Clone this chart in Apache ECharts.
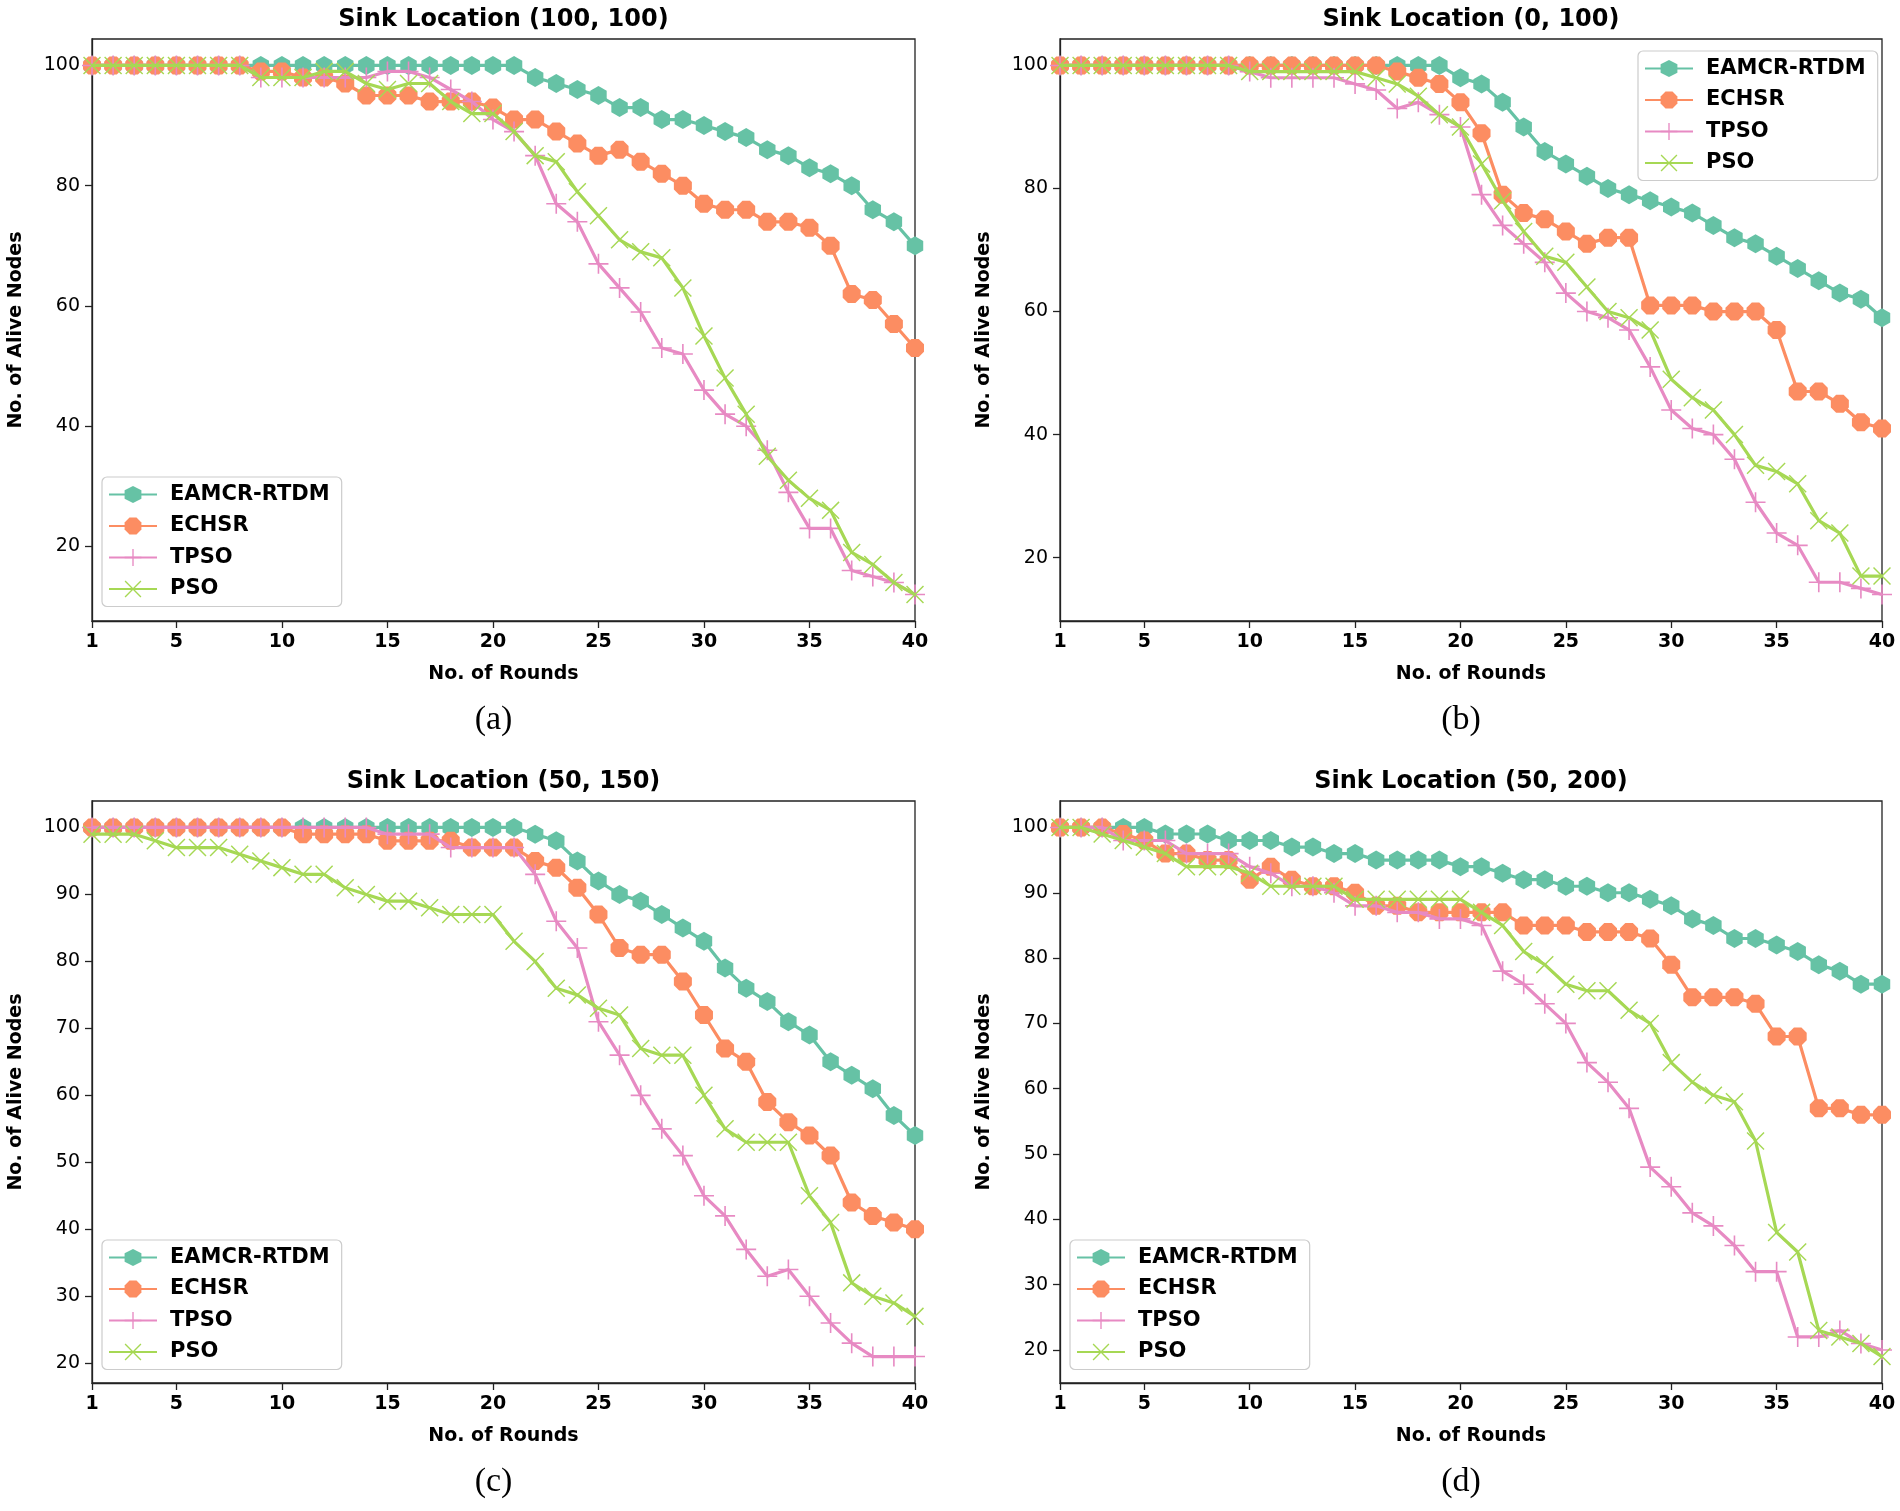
<!DOCTYPE html>
<html>
<head>
<meta charset="utf-8">
<script src="https://cdn.jsdelivr.net/npm/echarts@6/dist/echarts.min.js"></script>
<style>html,body{margin:0;padding:0;background:#fff;}#chart{width:1900px;height:1511px;}</style>
</head>
<body>
<div id="chart"></div>
<script>
// ---------- data ----------
const rounds = [1,2,3,4,5,6,7,8,9,10,11,12,13,14,15,16,17,18,19,20,21,22,23,24,25,26,27,28,29,30,31,32,33,34,35,36,37,38,39,40];
const xTicks = [1,5,10,15,20,25,30,35,40];
const seriesNames = ['EAMCR-RTDM','ECHSR','TPSO','PSO'];
const panelTitles = ['Sink Location (100, 100)','Sink Location (0, 100)','Sink Location (50, 150)','Sink Location (50, 200)'];
const panelTags = ['(a)','(b)','(c)','(d)'];
const yTicksA = [20,40,60,80,100];
const yTicksB = [20,40,60,80,100];
const yTicksC = [20,30,40,50,60,70,80,90,100];
const yTicksD = [20,30,40,50,60,70,80,90,100];

// (a) Sink Location (100, 100)
const a_EAMCR = [100,100,100,100,100,100,100,100,100,100,100,100,100,100,100,100,100,100,100,100,100,98,97,96,95,93,93,91,91,90,89,88,86,85,83,82,80,76,74,70];
const a_ECHSR = [100,100,100,100,100,100,100,100,99,99,98,98,97,95,95,95,94,94,94,93,91,91,89,87,85,86,84,82,80,77,76,76,74,74,73,70,62,61,57,53];
const a_TPSO  = [100,100,100,100,100,100,100,100,98,98,98,98,98,98,99,99,98,96,94,91,89,85,77,74,67,63,59,53,52,46,42,40,36,29,23,23,16,15,14,12];
const a_PSO   = [100,100,100,100,100,100,100,100,98,98,98,99,99,97,96,97,97,94,92,92,89,85,84,79,75,71,69,68,63,55,48,42,35,31,28,26,19,17,14,12];

// (b) Sink Location (0, 100)
const b_EAMCR = [100,100,100,100,100,100,100,100,100,100,100,100,100,100,100,100,100,100,100,98,97,94,90,86,84,82,80,79,78,77,76,74,72,71,69,67,65,63,62,59];
const b_ECHSR = [100,100,100,100,100,100,100,100,100,100,100,100,100,100,100,100,99,98,97,94,89,79,76,75,73,71,72,72,61,61,61,60,60,60,57,47,47,45,42,41];
const b_TPSO  = [100,100,100,100,100,100,100,100,100,99,98,98,98,98,97,96,93,94,92,90,79,74,71,68,63,60,59,57,51,44,41,40,36,29,24,22,16,16,15,14];
const b_PSO   = [100,100,100,100,100,100,100,100,100,99,99,99,99,99,99,98,97,95,92,90,84,78,73,69,68,64,60,59,57,49,46,44,40,35,34,32,26,24,17,17];

// (c) Sink Location (50, 150)
const c_EAMCR = [100,100,100,100,100,100,100,100,100,100,100,100,100,100,100,100,100,100,100,100,100,99,98,95,92,90,89,87,85,83,79,76,74,71,69,65,63,61,57,54];
const c_ECHSR = [100,100,100,100,100,100,100,100,100,100,99,99,99,99,98,98,98,98,97,97,97,95,94,91,87,82,81,81,77,72,67,65,59,56,54,51,44,42,41,40];
const c_TPSO  = [100,100,100,100,100,100,100,100,100,100,100,100,100,100,99,99,99,97,97,97,97,93,86,82,71,66,60,55,51,45,42,37,33,34,30,26,23,21,21,21];
const c_PSO   = [99,99,99,98,97,97,97,96,95,94,93,93,91,90,89,89,88,87,87,87,83,80,76,75,73,72,67,66,66,60,55,53,53,53,45,41,32,30,29,27];

// (d) Sink Location (50, 200)
const d_EAMCR = [100,100,100,100,100,99,99,99,98,98,98,97,97,96,96,95,95,95,95,94,94,93,92,92,91,91,90,90,89,88,86,85,83,83,82,81,79,78,76,76];
const d_ECHSR = [100,100,100,99,98,96,96,95,95,92,94,92,91,91,90,88,88,87,87,87,87,87,85,85,85,84,84,84,83,79,74,74,74,73,68,68,57,57,56,56];
const d_TPSO  = [100,100,100,98,98,98,96,96,96,94,93,91,91,90,88,88,87,87,86,86,85,78,76,73,70,64,61,57,48,45,41,39,36,32,32,22,22,23,21,20];
const d_PSO   = [100,100,99,98,97,96,94,94,94,93,91,91,91,91,89,89,89,89,89,89,87,85,81,79,76,75,75,72,70,64,61,59,58,52,38,35,23,22,21,19];

const panels = [
  {series:[a_EAMCR,a_ECHSR,a_TPSO,a_PSO], yTicks:yTicksA},
  {series:[b_EAMCR,b_ECHSR,b_TPSO,b_PSO], yTicks:yTicksB},
  {series:[c_EAMCR,c_ECHSR,c_TPSO,c_PSO], yTicks:yTicksC},
  {series:[d_EAMCR,d_ECHSR,d_TPSO,d_PSO], yTicks:yTicksD}
];

// ---------- styles ----------
const colors = ['#66c2a5','#fc8d62','#e78ac3','#a6d854'];
const hexPath = 'path://M0,-1 L0.866,-0.5 L0.866,0.5 L0,1 L-0.866,0.5 L-0.866,-0.5 Z';
const octPath = 'path://M0.383,-0.924 L0.924,-0.383 L0.924,0.383 L0.383,0.924 L-0.383,0.924 L-0.924,0.383 L-0.924,-0.383 L-0.383,-0.924 Z';
const plusPath = 'path://M-0.08,-1 L0.08,-1 L0.08,-0.08 L1,-0.08 L1,0.08 L0.08,0.08 L0.08,1 L-0.08,1 L-0.08,0.08 L-1,0.08 L-1,-0.08 L-0.08,-0.08 Z';
const xa = 0.06;
const xPath = 'path://M' + (-1+xa) + ',' + (-1-xa) + ' L' + (1+xa) + ',' + (1-xa) + ' L' + (1-xa) + ',' + (1+xa) + ' L' + (-1-xa) + ',' + (-1+xa) + ' Z ' +
              'M' + (-1+xa) + ',' + (1+xa) + ' L' + (-1-xa) + ',' + (1-xa) + ' L' + (1-xa) + ',' + (-1-xa) + ' L' + (1+xa) + ',' + (-1+xa) + ' Z';
const symbols = [hexPath, octPath, plusPath, xPath];
const symbolSizes = [19, 18, 20, 18];

const gridPos = [
  {left:92, top:39, width:823, height:582},
  {left:1060, top:39, width:822, height:582},
  {left:92, top:801, width:823, height:582},
  {left:1060, top:801, width:822, height:582}
];
const legendPos = [
  {left:102, top:477},
  {left:1638, top:51},
  {left:102, top:1240},
  {left:1070, top:1240}
];

const FONT = 'DejaVu Sans';
const grids = [], xAxes = [], yAxes = [], series = [], legends = [], graphics = [];

panels.forEach((p, i) => {
  const g = gridPos[i];
  grids.push(Object.assign({show:true, borderColor:'#222', borderWidth:1.3, backgroundColor:'#fff', containLabel:false}, g));
  let lo = Infinity, hi = -Infinity;
  p.series.forEach(s => s.forEach(v => { lo = Math.min(lo, v); hi = Math.max(hi, v); }));
  const pad = (hi - lo) * 0.05;
  xAxes.push({
    type:'value', gridIndex:i, min:1, max:40,
    name:'No. of Rounds', nameLocation:'middle', nameGap:44,
    nameTextStyle:{fontFamily:FONT, fontWeight:'bold', fontSize:19, color:'#000'},
    axisLine:{show:true, onZero:false, lineStyle:{color:'#222', width:1.3}},
    axisTick:{show:true, length:7, customValues:xTicks, lineStyle:{color:'#222', width:1.3}},
    axisLabel:{customValues:xTicks, fontFamily:FONT, fontSize:19, color:'#000', margin:12, fontWeight:'bold'},
    splitLine:{show:false}
  });
  yAxes.push({
    type:'value', gridIndex:i, min:lo - pad, max:hi + pad,
    name:'No. of Alive Nodes', nameLocation:'middle', nameGap:66,
    nameTextStyle:{fontFamily:FONT, fontWeight:'bold', fontSize:19, color:'#000'},
    axisLine:{show:true, onZero:false, lineStyle:{color:'#222', width:1.3}},
    axisTick:{show:true, length:7, customValues:p.yTicks, lineStyle:{color:'#222', width:1.3}},
    axisLabel:{customValues:p.yTicks, fontFamily:FONT, fontSize:19, color:'#000', margin:12},
    splitLine:{show:false}
  });
  p.series.forEach((vals, k) => {
    series.push({
      name:seriesNames[k], type:'line', xAxisIndex:i, yAxisIndex:i,
      data:rounds.map((r, j) => [r, vals[j]]),
      symbol:symbols[k], symbolSize:symbolSizes[k], symbolKeepAspect:true,
      showAllSymbol:true,
      lineStyle:{color:colors[k], width:3.2},
      itemStyle:{color:colors[k], borderWidth:0},
      emphasis:{disabled:true},
      animation:false, z:2 + k
    });
  });
  legends.push(Object.assign({
    orient:'vertical', data:seriesNames, itemWidth:48, itemHeight:21, itemGap:10.5,
    padding:[7,12,7,6], backgroundColor:'rgba(255,255,255,0.85)',
    borderColor:'#cccccc', borderWidth:1.2, borderRadius:5,
    textStyle:{fontFamily:FONT, fontWeight:'bold', fontSize:21, color:'#000', padding:[0,0,0,8]},
    selectedMode:false
  }, legendPos[i]));
  graphics.push({
    type:'text', x:g.left + g.width/2, y:g.top - 31,
    style:{text:panelTitles[i], font:'bold 24px "' + FONT + '"', fill:'#000', textAlign:'center'}
  });
  graphics.push({
    type:'text', x:g.left + g.width/2 - 10, y:g.top + g.height + 82,
    style:{text:panelTags[i], font:'34px "Liberation Serif"', fill:'#000', textAlign:'center'}
  });
});

const chart = echarts.init(document.getElementById('chart'), null, {renderer:'canvas'});
chart.setOption({
  animation:false,
  backgroundColor:'#fff',
  grid:grids, xAxis:xAxes, yAxis:yAxes, series:series, legend:legends,
  graphic:{elements:graphics}
});
</script>
</body>
</html>
